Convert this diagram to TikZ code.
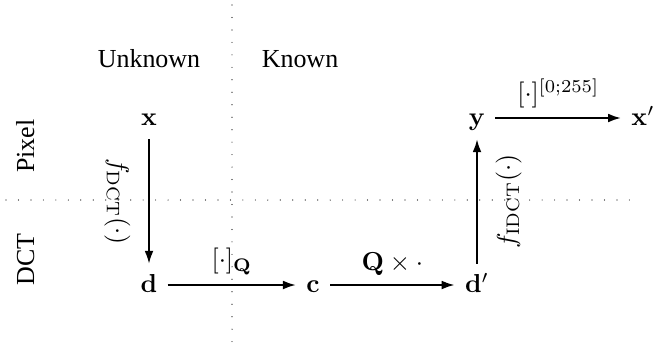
\documentclass[tikz,border=0pt]{standalone}
\usepackage[no-math]{fontspec}
\setmainfont{Liberation Serif}
\usetikzlibrary{arrows.meta}
\begin{document}
\begin{tikzpicture}[x=0.385pt,y=-0.385pt,
  mnode/.style={text height=1.55ex, text depth=0.25ex, inner sep=3.8pt},
  arr/.style={line width=0.8pt, -{Latex[length=5pt,width=3.4pt]}},
  sep/.style={line width=0.45pt, line cap=round, dash pattern=on 0pt off 4.8pt},
  vlabel/.style={midway, anchor=north, inner sep=6.8pt},
  hlabel/.style={midway, above, inner sep=3.3pt},
  region/.style={anchor=base, inner sep=0pt}]
\useasboundingbox (0,0) rectangle (665,354);
% separators
\draw[sep] (232,5) -- (232,350);
\draw[sep] (6,200) -- (633,200);
% region titles
\node[region] (unk) at (149,67) {Unknown};
\node[region] (kno) at (300,67) {Known};
\node[region, rotate=90] (pix) at (34,146) {Pixel};
\node[region, rotate=90] (dctr) at (34,259.5) {DCT};
% math nodes
\node[mnode] (x) at (149,118) {$\mathbf{x}$};
\node[mnode] (d) at (149,285) {$\mathbf{d}$};
\node[mnode] (c) at (313,285) {$\mathbf{c}$};
\node[mnode] (dp) at (477,285) {$\mathbf{d}'$};
\node[mnode] (y) at (477,118) {$\mathbf{y}$};
\node[mnode] (xp) at (643,118) {$\mathbf{x}'$};
% arrows
\draw[arr] (x) -- node[vlabel, rotate=-90] (l1) {$f_{\mathrm{DCT}}(\cdot)$} (d);
\draw[arr] (d) -- node[hlabel] (l2) {$[\cdot]_{\mathbf{Q}}$} (c);
\draw[arr] (c) -- node[hlabel] (l3) {$\mathbf{Q}\times\cdot$} (dp);
\draw[arr] (dp) -- node[vlabel, rotate=90] (l4) {$f_{\mathrm{IDCT}}(\cdot)$} (y);
\draw[arr] (y) -- node[hlabel] (l5) {$[\cdot]^{[0;255]}$} (xp);
\end{tikzpicture}
\end{document}
